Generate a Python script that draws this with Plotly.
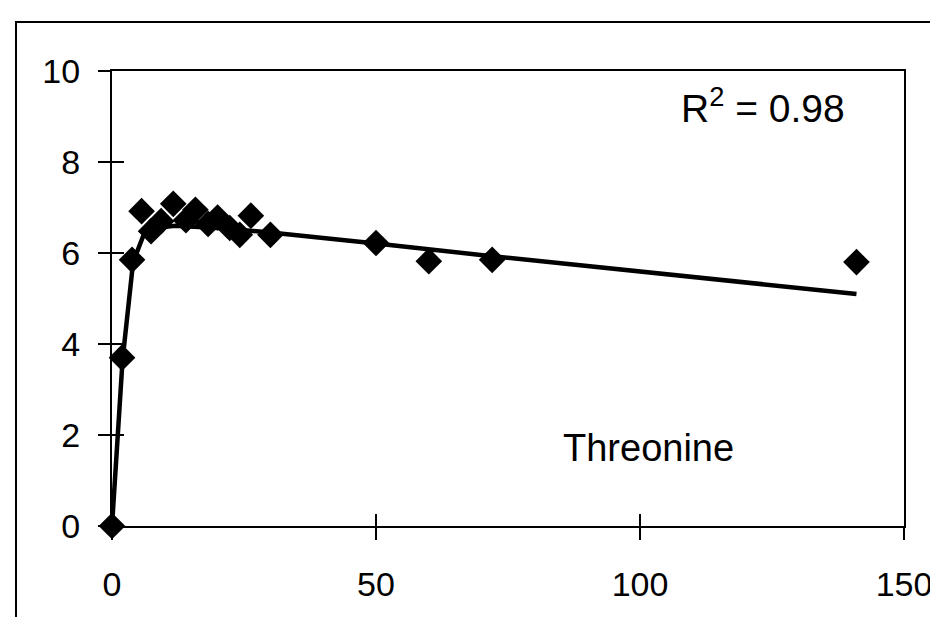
import plotly.graph_objects as go

time_pts = [0, 1.9, 3.8, 5.6, 7.4, 9.3, 11.6, 14, 15.8, 18.2, 20, 22.3, 24.2, 26.3, 30, 50, 60, 72, 141]
value_pts = [0, 3.7, 5.85, 6.92, 6.48, 6.7, 7.08, 6.72, 6.95, 6.64, 6.78, 6.55, 6.4, 6.82, 6.4, 6.22, 5.82, 5.85, 5.8]

# Fitted curve
fit_x = [0, 2, 4, 6, 8, 12, 20, 30, 50, 60, 72, 141]
fit_y = [0, 3.65, 5.8, 6.4, 6.55, 6.6, 6.55, 6.45, 6.21, 6.08, 5.93, 5.1]

x_ticks = [0, 50, 100, 150]
y_ticks = [0, 2, 4, 6, 8, 10]

FONT = "Liberation Sans, Arial, Helvetica, sans-serif"

fig = go.Figure()
fig.add_trace(go.Scatter(x=fit_x, y=fit_y, mode="lines",
                         line=dict(color="black", width=4.5),
                         showlegend=False, cliponaxis=False, hoverinfo="skip"))
fig.add_trace(go.Scatter(x=time_pts, y=value_pts, mode="markers",
                         marker=dict(symbol="diamond", size=20.5, color="black",
                                     line=dict(width=0)),
                         showlegend=False, cliponaxis=False))
# invisible helper so overlay axes (for crossing tick marks) are drawn
fig.add_trace(go.Scatter(x=[None], y=[None], xaxis="x2", yaxis="y2",
                         showlegend=False, hoverinfo="skip"))

axis_common = dict(showgrid=False, zeroline=False, color="black",
                   tickfont=dict(family=FONT, size=34, color="black"))

fig.update_layout(
    width=938, height=617,
    margin=dict(l=104, r=42, t=63, b=99),
    paper_bgcolor="white", plot_bgcolor="white",
    xaxis=dict(range=[0, 150], tickvals=x_ticks, ticks="outside", ticklen=12,
               tickwidth=1.5, tickcolor="black", showline=True, linecolor="black",
               linewidth=2, mirror=True, ticklabelstandoff=15, **axis_common),
    yaxis=dict(range=[0, 10], tickvals=y_ticks, ticks="outside", ticklen=12,
               tickwidth=1.5, tickcolor="black", showline=True, linecolor="black",
               linewidth=2, mirror=True, ticklabelstandoff=11, **axis_common),
    xaxis2=dict(range=[0, 150], tickvals=x_ticks, ticks="inside", ticklen=12,
                tickwidth=1.5, tickcolor="black", showticklabels=False,
                showgrid=False, zeroline=False, showline=False,
                overlaying="x", anchor="y2", side="bottom"),
    yaxis2=dict(range=[0, 10], tickvals=y_ticks, ticks="inside", ticklen=12,
                tickwidth=1.5, tickcolor="black", showticklabels=False,
                showgrid=False, zeroline=False, showline=False,
                overlaying="y", anchor="x2", side="left"),
    annotations=[
        dict(text="R<sup>2</sup> = 0.98", xref="paper", yref="paper",
             x=0.822, y=0.925, xanchor="center", yanchor="middle",
             showarrow=False,
             font=dict(family=FONT, size=39, color="black")),
        dict(text="Threonine", xref="paper", yref="paper",
             x=0.678, y=0.171, xanchor="center", yanchor="middle",
             showarrow=False,
             font=dict(family=FONT, size=38, color="black")),
    ],
    shapes=[
        dict(type="rect", xref="paper", yref="paper",
             x0=(8 - 104) / 792, x1=(950 - 104) / 792,
             y0=-0.3, y1=1 + (63 - 14) / 455,
             line=dict(color="black", width=2), fillcolor="rgba(0,0,0,0)",
             layer="below"),
    ],
)

fig.write_html("out.html")
